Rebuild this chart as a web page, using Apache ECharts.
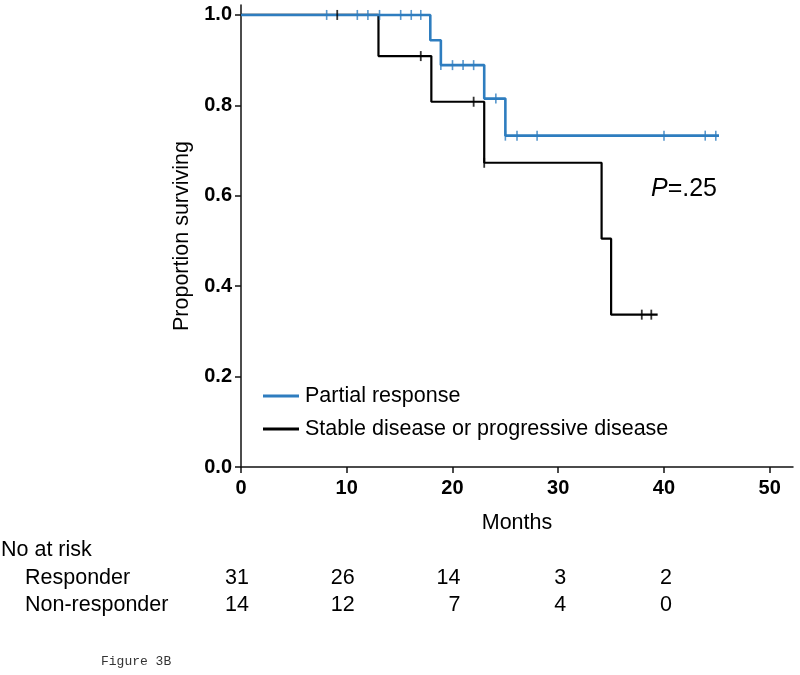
<!DOCTYPE html>
<html>
<head>
<meta charset="utf-8">
<script src="https://cdn.jsdelivr.net/npm/echarts@6/dist/echarts.min.js"></script>
<style>
  html, body { margin: 0; padding: 0; background: #fff; }
  #chart { width: 800px; height: 675px; }
</style>
</head>
<body>
<div id="chart"></div>
<script>
// ---- data ----
const xTicks = [0, 10, 20, 30, 40, 50];
const yTicks = [0, 0.2, 0.4, 0.6, 0.8, 1.0];

// Partial response (blue) step curve
const prTimes = [0, 17.9, 18.9, 23.0, 25.0, 45.2];
const prSurv  = [1.0, 0.944, 0.889, 0.815, 0.733, 0.733];
const prCensor = [8.1, 11.0, 12.0, 13.1, 15.1, 16.1, 17.0, 18.9, 20.0, 21.0, 22.0, 24.1, 25.0, 26.1, 28.0, 40.0, 43.9, 44.9];

// Stable / progressive disease (black) step curve
const sdTimes = [0, 13.0, 18.0, 23.0, 34.1, 35.0, 39.4];
const sdSurv  = [1.0, 0.909, 0.808, 0.673, 0.505, 0.337, 0.337];
const sdCensor = [9.1, 17.0, 22.0, 23.0, 37.9, 38.8];

// Numbers at risk
const riskTimes = [0, 10, 20, 30, 40];
const riskRows = ['Non-responder', 'Responder'];
const riskResponder = [31, 26, 14, 3, 2];
const riskNonResponder = [14, 12, 7, 4, 0];

const seriesNames = ['Partial response', 'Stable disease or progressive disease'];
const pText = '.25';

// ---- helpers ----
function stepAt(times, surv, t) {
  let v = surv[0];
  for (let i = 0; i < times.length; i++) if (times[i] <= t) v = surv[i];
  return v;
}
const zip = (a, b) => a.map((x, i) => [x, b[i]]);

const BLUE = '#2e7dbf';
const BLACK = '#000000';
const FONT = '"Liberation Sans", Arial, Helvetica, sans-serif';

const riskData = [];
riskTimes.forEach((t, i) => {
  riskData.push([t, 1, riskResponder[i]]);
  riskData.push([t, 0, riskNonResponder[i]]);
});

const chart = echarts.init(document.getElementById('chart'), null, { renderer: 'canvas' });
chart.setOption({
  animation: false,
  backgroundColor: '#fff',
  textStyle: { fontFamily: FONT },
  grid: [
    { left: 241, top: 5, width: 552, height: 462 },
    { left: 241, top: 565, width: 552, height: 54 }
  ],
  xAxis: [
    {
      gridIndex: 0, type: 'value', min: 0, max: 52.2,
      name: 'Months', nameLocation: 'middle', nameGap: 45,
      nameTextStyle: { fontSize: 21.5, color: '#000', fontFamily: FONT },
      axisLine: { lineStyle: { color: '#111', width: 1.5 } },
      axisTick: { show: true, length: 6, lineStyle: { color: '#111', width: 1.5 }, customValues: xTicks },
      axisLabel: { customValues: xTicks, fontSize: 20, fontWeight: 'bold', color: '#000', margin: 11, fontFamily: FONT },
      splitLine: { show: false }
    },
    {
      gridIndex: 1, type: 'value', min: 0, max: 52.2, show: false
    }
  ],
  yAxis: [
    {
      gridIndex: 0, type: 'value', min: 0, max: 1.022,
      name: 'Proportion surviving', nameLocation: 'middle', nameGap: 43, nameRotate: 90,
      nameTextStyle: { fontSize: 21.5, color: '#000', fontFamily: FONT },
      axisLine: { show: true, lineStyle: { color: '#111', width: 1.5 } },
      axisTick: { show: true, length: 6, lineStyle: { color: '#111', width: 1.5 }, customValues: yTicks },
      axisLabel: { customValues: yTicks, fontSize: 20, fontWeight: 'bold', color: '#000', margin: 9,
                   formatter: v => v.toFixed(1), fontFamily: FONT },
      splitLine: { show: false }
    },
    {
      gridIndex: 1, type: 'category', data: riskRows,
      axisLine: { show: false }, axisTick: { show: false }, splitLine: { show: false },
      axisLabel: { interval: 0, hideOverlap: false, align: 'left', margin: 216, fontSize: 21.5, color: '#000', fontFamily: FONT }
    }
  ],
  legend: {
    data: seriesNames,
    orient: 'vertical', left: 258, top: 380,
    itemWidth: 36, itemHeight: 3, itemGap: 11, icon: 'rect',
    textStyle: { fontSize: 21.5, color: '#000', fontFamily: FONT, padding: [0, 0, 0, 1] }
  },
  series: [
    {
      name: seriesNames[1], type: 'line', step: 'end', xAxisIndex: 0, yAxisIndex: 0,
      data: zip(sdTimes, sdSurv), showSymbol: false, symbol: 'none',
      lineStyle: { color: BLACK, width: 2.2 }, itemStyle: { color: BLACK }, z: 2
    },
    {
      name: seriesNames[0], type: 'line', step: 'end', xAxisIndex: 0, yAxisIndex: 0,
      data: zip(prTimes, prSurv), showSymbol: false, symbol: 'none',
      lineStyle: { color: BLUE, width: 2.6 }, itemStyle: { color: BLUE }, z: 3
    },
    {
      name: 'pr-censor', type: 'scatter', xAxisIndex: 0, yAxisIndex: 0,
      data: prCensor.map(t => [t, stepAt(prTimes, prSurv, t)]),
      symbol: 'rect', symbolSize: [1.6, 10], itemStyle: { color: BLUE }, z: 4
    },
    {
      name: 'sd-censor', type: 'scatter', xAxisIndex: 0, yAxisIndex: 0,
      data: sdCensor.map(t => [t, stepAt(sdTimes, sdSurv, t)]),
      symbol: 'rect', symbolSize: [1.8, 10], itemStyle: { color: BLACK }, z: 5
    },
    {
      name: 'at-risk', type: 'scatter', xAxisIndex: 1, yAxisIndex: 1,
      data: riskData, symbolSize: 0.001, itemStyle: { color: '#000', opacity: 1 },
      label: {
        show: true, position: 'inside', offset: [8, 0], align: 'right',
        formatter: p => String(p.value[2]),
        fontSize: 21.5, color: '#000', opacity: 1, textBorderWidth: 0, fontFamily: FONT
      }
    }
  ],
  graphic: [
    {
      type: 'text', left: 1, top: 539,
      style: { text: 'No at risk', fontSize: 21.5, fill: '#000', fontFamily: FONT }
    },
    {
      type: 'text', left: 651, top: 177,
      style: {
        text: '{i|P}{n|=' + pText + '}',
        rich: {
          i: { fontSize: 25, fontStyle: 'italic', fill: '#000', fontFamily: FONT },
          n: { fontSize: 25, fill: '#000', fontFamily: FONT }
        }
      }
    },
    {
      type: 'text', left: 101, top: 655,
      style: { text: 'Figure 3B', fontSize: 13, fill: '#333', fontFamily: '"Liberation Mono", "Courier New", monospace' }
    }
  ]
});
</script>
</body>
</html>
